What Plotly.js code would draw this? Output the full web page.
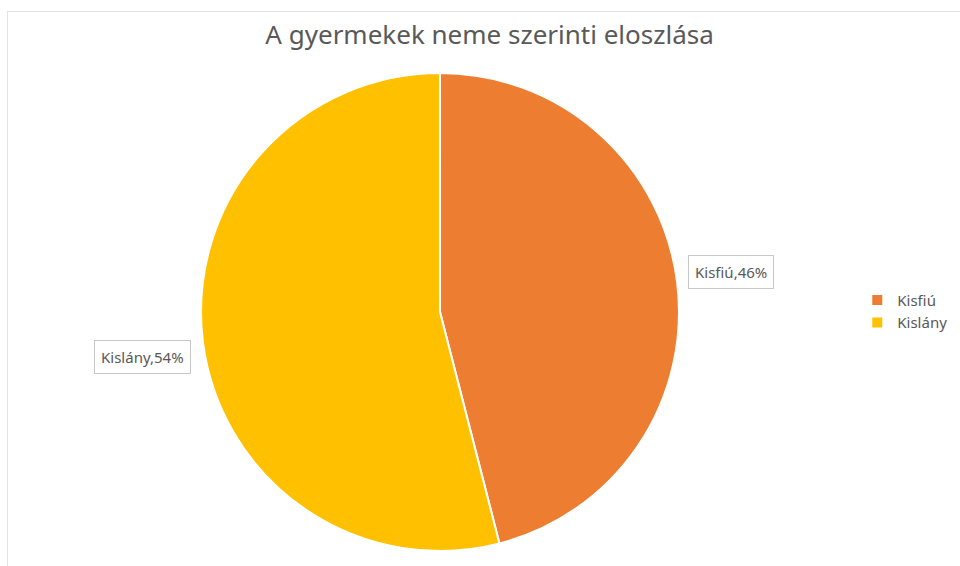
<!DOCTYPE html>
<html>
<head>
<meta charset="utf-8">
<script src="https://cdn.plot.ly/plotly-3.0.1.min.js"></script>
<style>
html,body{margin:0;padding:0;background:#fff;overflow:hidden;width:960px;height:566px;}
#chart{position:absolute;left:0;top:0;width:960px;height:566px;}
#frame{position:absolute;left:7px;top:11px;width:1000px;height:600px;border:1px solid #e3e3e3;pointer-events:none;}
</style>
</head>
<body>
<div id="chart"></div>
<div id="frame"></div>
<script>
const categories = ["Kisfiú", "Kislány"];
const shares = [46, 54];
const colors = ["#ED7D31", "#FFC000"];
const labelTexts = categories.map((c, i) => c + "," + shares[i] + "%");

const data = [{
  type: "pie",
  labels: categories,
  values: shares,
  sort: false,
  direction: "clockwise",
  rotation: 0,
  marker: {colors: colors, line: {color: "#ffffff", width: 2}},
  textinfo: "none",
  hoverinfo: "label+percent",
  domain: {x: [0.2094, 0.7073], y: [0.0266, 0.871]}
}];

const layout = {
  width: 960, height: 566,
  margin: {l: 0, r: 0, t: 0, b: 0},
  paper_bgcolor: "#ffffff",
  font: {family: "Noto Sans, Open Sans, sans-serif", color: "#595959"},
  title: {text: "A gyermekek neme szerinti eloszlása", x: 0.51, xanchor: "center", y: 0.938, yanchor: "middle",
          font: {size: 26, color: "#595959", family: "Noto Sans, sans-serif"}},
  showlegend: true,
  legend: {x: 0.893, y: 0.45, xanchor: "left", yanchor: "middle", font: {size: 15, color: "#595959"},
           itemwidth: 30, tracegroupgap: 0, bgcolor: "rgba(0,0,0,0)"},
  annotations: [
    {text: labelTexts[0], x: 731/960, y: 1 - 272/566, xref: "paper", yref: "paper", xanchor: "center", yanchor: "middle",
     showarrow: false, font: {size: 15, color: "#595959"}, bordercolor: "#c8c8c8", borderwidth: 1, borderpad: 6, bgcolor: "#ffffff"},
    {text: labelTexts[1], x: 142/960, y: 1 - 357/566, xref: "paper", yref: "paper", xanchor: "center", yanchor: "middle",
     showarrow: false, font: {size: 15, color: "#595959"}, bordercolor: "#c8c8c8", borderwidth: 1, borderpad: 6, bgcolor: "#ffffff"}
  ]
};

Plotly.newPlot("chart", data, layout, {displayModeBar: false, staticPlot: true});
</script>
</body>
</html>
